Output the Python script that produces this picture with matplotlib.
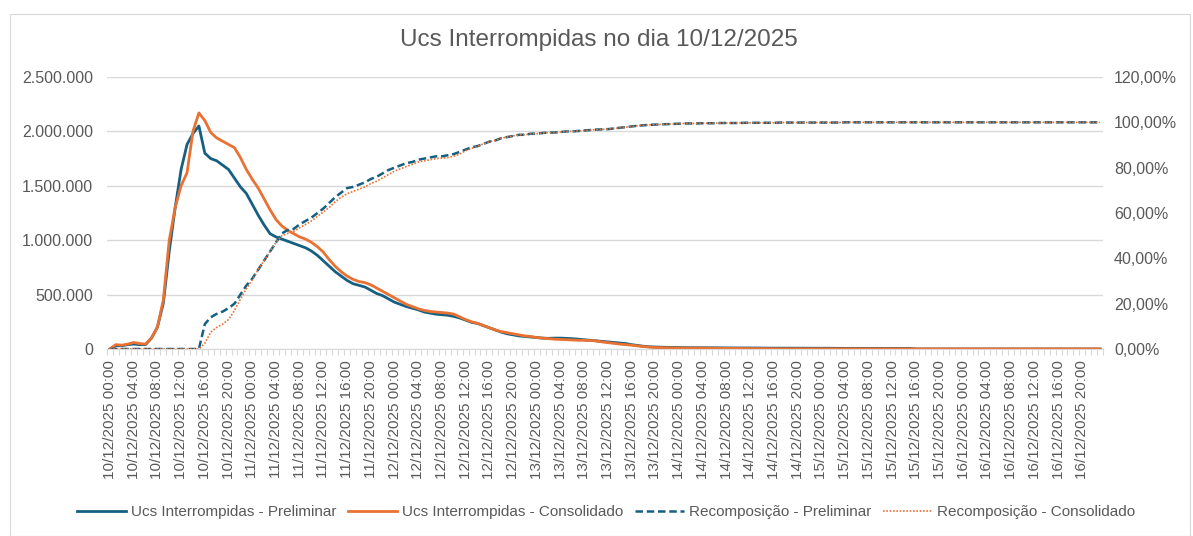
import numpy as np
import pandas as pd
import matplotlib.pyplot as plt
from matplotlib.ticker import FuncFormatter, MultipleLocator
from matplotlib.patches import Rectangle

# hourly data, 10/12/2025 00:00 .. 16/12/2025 23:00
horas = pd.date_range("2025-12-10 00:00", "2025-12-16 23:00", freq="h")

# Ucs interrompidas (milhares)
ucs_pre_mil = [
    0, 30, 30, 40, 45, 40, 40, 100, 200, 420, 900, 1300,
    1650, 1880, 1980, 2050, 1800, 1750, 1730, 1690, 1650, 1570, 1490, 1430,
    1330, 1230, 1140, 1060, 1030, 1010, 990, 970, 950, 930, 900, 860,
    810, 760, 710, 670, 630, 600, 585, 570, 540, 510, 490, 460,
    430, 410, 390, 375, 360, 340, 330, 320, 315, 310, 300, 285,
    265, 245, 235, 215, 195, 175, 155, 140, 130, 120, 115, 110,
    105, 100, 98, 100, 100, 98, 95, 90, 85, 80, 75, 70,
    65, 60, 55, 50, 40, 32, 25, 20, 18, 16, 15, 14,
    13, 13, 12, 12, 12, 11, 11, 10, 10, 10, 9, 9,
    9, 9, 8, 8, 8, 8, 8, 7, 7, 7, 7, 7,
    7, 7, 6, 6, 6, 6, 6, 6, 6, 6, 6, 6,
    5, 5, 5, 5, 0, 0, 0, 0, 0, 0, 0, 0,
    0, 0, 0, 0, 0, 0, 0, 0, 0, 0, 0, 0,
    0, 0, 0, 0, 0, 0, 0, 0, 0, 0, 0, 0,
]
ucs_cons_mil = [
    0, 40, 35, 45, 60, 50, 45, 100, 200, 450, 1000, 1300,
    1500, 1620, 2000, 2170, 2100, 1990, 1940, 1910, 1880, 1850, 1760, 1650,
    1560, 1480, 1380, 1280, 1190, 1130, 1090, 1060, 1030, 1010, 980, 940,
    890, 820, 760, 710, 670, 640, 620, 610, 590, 560, 530, 500,
    470, 440, 410, 390, 370, 355, 345, 340, 335, 330, 320, 295,
    270, 250, 235, 215, 195, 175, 160, 150, 140, 130, 120, 115,
    105, 100, 95, 90, 88, 85, 83, 80, 80, 78, 75, 65,
    58, 50, 45, 40, 35, 28, 22, 18, 14, 12, 11, 10,
    10, 9, 9, 8, 8, 7, 7, 6, 6, 5, 5, 4,
    4, 4, 3, 3, 2, 2, 2, 2, 1, 1, 1, 1,
    1, 1, 1, 1, 1, 1, 1, 1, 1, 1, 1, 1,
    1, 1, 1, 1, 1, 1, 1, 1, 1, 1, 1, 1,
    1, 1, 1, 1, 1, 1, 1, 1, 1, 1, 1, 1,
    1, 1, 1, 1, 1, 1, 1, 1, 1, 1, 1, 1,
]
# Recomposicao (%)
recomp_pre = [
    0, 0, 0, 0, 0, 0, 0, 0, 0, 0, 0, 0,
    0, 0, 0, 0, 11, 14, 15.5, 16.5, 18, 20, 24, 28,
    31, 35, 39, 43, 47, 51, 52.5, 53, 55, 56.5, 58, 60,
    62, 64.5, 67, 69, 71, 71.5, 72.5, 73.5, 75, 76, 77.5, 79,
    80, 81, 82, 82.5, 83.5, 84, 84.5, 85, 85, 85.5, 86, 87,
    88, 89, 89.5, 90.5, 91.5, 92, 93, 93.5, 94, 94.5, 94.5, 95,
    95, 95.3, 95.5, 95.5, 95.7, 96, 96, 96.2, 96.4, 96.6, 96.8, 96.9,
    97, 97.3, 97.6, 97.9, 98.2, 98.5, 98.7, 98.9, 99, 99.1, 99.2, 99.3,
    99.4, 99.5, 99.5, 99.5, 99.6, 99.6, 99.6, 99.7, 99.7, 99.7, 99.7, 99.8,
    99.8, 99.8, 99.8, 99.8, 99.8, 99.9, 99.9, 99.9, 99.9, 99.9, 99.9, 99.9,
    99.9, 99.9, 99.9, 99.9, 100, 100, 100, 100, 100, 100, 100, 100,
    100, 100, 100, 100, 100, 100, 100, 100, 100, 100, 100, 100,
    100, 100, 100, 100, 100, 100, 100, 100, 100, 100, 100, 100,
    100, 100, 100, 100, 100, 100, 100, 100, 100, 100, 100, 100,
]
recomp_cons = [
    0, 0, 0, 0, 0, 0, 0, 0, 0, 0, 0, 0,
    0, 0, 0, 0, 2.5, 7.5, 9.5, 11, 13, 17, 22, 26.5,
    30.5, 35, 39, 43, 47, 50, 51, 52, 53.5, 55, 56.5, 58.5,
    60.5, 62.5, 65, 67, 68.5, 69.5, 70.5, 71.5, 73, 74, 75.5, 77,
    78.5, 79.5, 80.5, 81.5, 82.5, 83, 83.5, 84, 84.2, 84.5, 85, 86,
    87.5, 88.5, 89.5, 90.5, 91.5, 92, 93, 93.5, 94, 94.5, 94.5, 95,
    95, 95.3, 95.5, 95.5, 95.7, 96, 96, 96.2, 96.4, 96.6, 96.8, 96.9,
    97, 97.3, 97.6, 97.9, 98.2, 98.5, 98.7, 98.9, 99, 99.1, 99.2, 99.3,
    99.4, 99.5, 99.5, 99.5, 99.6, 99.6, 99.6, 99.7, 99.7, 99.7, 99.7, 99.8,
    99.8, 99.8, 99.8, 99.8, 99.8, 99.9, 99.9, 99.9, 99.9, 99.9, 99.9, 99.9,
    99.9, 99.9, 99.9, 99.9, 100, 100, 100, 100, 100, 100, 100, 100,
    100, 100, 100, 100, 100, 100, 100, 100, 100, 100, 100, 100,
    100, 100, 100, 100, 100, 100, 100, 100, 100, 100, 100, 100,
    100, 100, 100, 100, 100, 100, 100, 100, 100, 100, 100, 100,
]

cinza = "#595959"
azul = "#156082"
laranja = "#E97132"

plt.rcParams["font.family"] = "Liberation Sans"

x = np.arange(len(horas))
fig = plt.figure(figsize=(11.93, 5.36), dpi=100)
fig.patches.append(Rectangle((10/1193, 0), 1180/1193, 1 - 14/536, transform=fig.transFigure,
                             fill=False, edgecolor="#d9d9d9", lw=0.8))
ax = fig.add_axes([107/1193, 1 - 349/536, 996/1193, 272/536])
ax2 = ax.twinx()

l1, = ax.plot(x, np.array(ucs_pre_mil) * 1000, color=azul, lw=2.0, label="Ucs Interrompidas - Preliminar")
l2, = ax.plot(x, np.array(ucs_cons_mil) * 1000, color=laranja, lw=2.0, label="Ucs Interrompidas - Consolidado")
l3, = ax2.plot(x, recomp_pre, color=azul, lw=1.8, ls=(0, (3, 1.5)), label="Recomposição - Preliminar")
l4, = ax2.plot(x, recomp_cons, color=laranja, lw=1.2, ls=(0, (1, 1)), label="Recomposição - Consolidado")

ax.set_xlim(-0.5, len(horas) - 0.5)
ax.set_ylim(0, 2500000)
ax2.set_ylim(0, 120)
ax.yaxis.set_major_locator(MultipleLocator(500000))
ax2.yaxis.set_major_locator(MultipleLocator(20))
ax.yaxis.set_major_formatter(FuncFormatter(lambda v, p: f"{v:,.0f}".replace(",", ".")))
ax2.yaxis.set_major_formatter(FuncFormatter(lambda v, p: f"{v:.2f}%".replace(".", ",")))

ticks = x[::4]
ax.set_xticks(ticks)
ax.set_xticklabels([horas[i].strftime("%d/%m/%Y %H:%M") for i in ticks], rotation=90)
ax.set_xticks(np.arange(-0.5, len(horas), 1), minor=True)
ax.tick_params(axis="x", which="major", length=0, pad=8, labelsize=11, labelcolor=cinza)
ax.tick_params(axis="x", which="minor", length=4, color="#d9d9d9", width=0.8)
ax.tick_params(axis="y", length=0, labelsize=11.5, labelcolor=cinza, pad=10)
ax2.tick_params(axis="y", length=0, labelsize=11.5, labelcolor=cinza, pad=8)

ax.grid(axis="y", color="#d9d9d9", lw=1)
ax.set_axisbelow(True)
for a in (ax, ax2):
    for s in a.spines.values():
        s.set_visible(False)
ax.spines["bottom"].set_visible(True)
ax.spines["bottom"].set_color("#d9d9d9")

fig.text(0.502, 1 - 40/536, "Ucs Interrompidas no dia 10/12/2025", ha="center", va="center",
         fontsize=17.5, color=cinza)

leg = fig.legend(handles=[l1, l2, l3, l4], loc="center", bbox_to_anchor=(0.508, 1 - 512/536), ncol=4,
                 frameon=False, prop={"size": 11}, labelcolor=cinza,
                 handlelength=3.2, handletextpad=0.3, columnspacing=0.8)

fig.savefig("out.png", dpi=100)
